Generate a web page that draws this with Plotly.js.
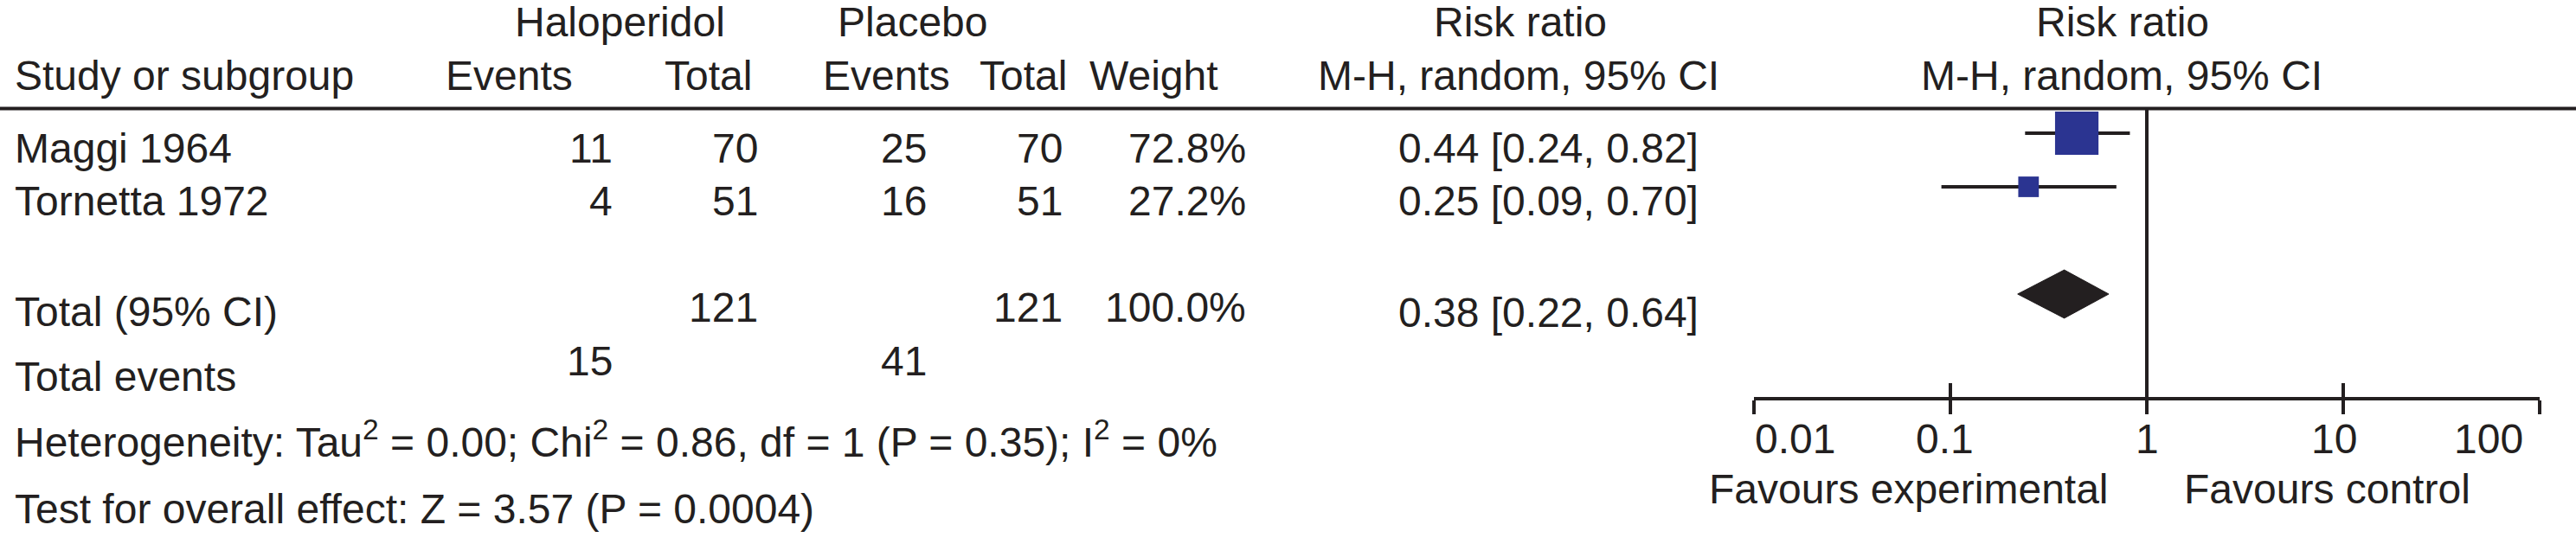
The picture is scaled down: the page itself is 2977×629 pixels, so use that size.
<!DOCTYPE html>
<html>
<head>
<meta charset="utf-8">
<script src="https://cdn.plot.ly/plotly-3.0.1.min.js"></script>
<style>html,body{margin:0;padding:0;background:#fff;}#chart{width:2977px;height:629px;}</style>
</head>
<body>
<div id="chart"></div>
<script>
// ---------------- DATA ----------------
const studies = ['Maggi 1964', 'Tornetta 1972'];
const haloEvents = [11, 4];
const haloTotal = [70, 51];
const placEvents = [25, 16];
const placTotal = [70, 51];
const weightPct = [72.8, 27.2];
const riskRatio = [0.44, 0.25];
const ciLower = [0.24, 0.09];
const ciUpper = [0.82, 0.70];

const pooledLabel = 'Total (95% CI)';
const pooledHaloTotal = 121;
const pooledPlacTotal = 121;
const pooledWeight = 100.0;
const pooledRR = 0.38;
const pooledLower = 0.22;
const pooledUpper = 0.64;
const totalHaloEvents = 15;
const totalPlacEvents = 41;

const hetTau2 = '0.00';
const hetChi2 = '0.86';
const hetDf = 1;
const hetP = '0.35';
const hetI2 = 0;
const overallZ = '3.57';
const overallP = '0.0004';

const nullEffect = 1;
const axisTickValues = [0.01, 0.1, 1, 10, 100];
const axisTickLabels = ['0.01', '0.1', '1', '10', '100'];
const favourLabels = ['Favours experimental', 'Favours control'];

// ---------------- STYLE / LAYOUT ----------------
const W = 2977, H = 629;
const INK = '#231f20';
const BLUE = '#2b3491';
const FONT = '"Liberation Sans", Arial, Helvetica, sans-serif';
const FS = 48;
const X = px => px / W;
const Y = py => 1 - py / H;
const axisLeftPx = 2027, axisRightPx = 2935, axisPx = 459;
const rowTopPx = 154, rowStepPx = 62;
const pxToRow = py => (py - rowTopPx) / rowStepPx;
const yTop = pxToRow(0);
const yBottom = pxToRow(axisPx);
const tickLabelNudge = [47, -7, 0, -11, -59];

const nStudies = studies.length;
const studyRows = studies.map((s, i) => i);
const pooledRow = nStudies + 1;

// CI lines
const ciX = [], ciY = [];
studies.forEach((s, i) => {
  ciX.push(ciLower[i], ciUpper[i], null);
  ciY.push(studyRows[i], studyRows[i], null);
});

const traces = [
  {type: 'scatter', mode: 'lines', x: [nullEffect, nullEffect], y: [yBottom, pxToRow(127)],
   line: {color: INK, width: 4}, hoverinfo: 'skip', opacity: 1},
  {type: 'scatter', mode: 'lines', x: ciX, y: ciY, line: {color: INK, width: 4}, hoverinfo: 'skip', opacity: 1},
  {type: 'scatter', mode: 'markers', x: riskRatio, y: studyRows, opacity: 1,
   marker: {symbol: 'square', color: BLUE, opacity: 1, size: weightPct.map(w => 8 + 0.58 * w), line: {width: 0}},
   hoverinfo: 'skip'},
  {type: 'scatter', mode: 'lines', fill: 'toself', fillcolor: INK, opacity: 1,
   x: [pooledLower, pooledRR, pooledUpper, pooledRR, pooledLower],
   y: [pooledRow, pooledRow - 0.45, pooledRow, pooledRow + 0.45, pooledRow],
   line: {color: INK, width: 1}, hoverinfo: 'skip'},
  {type: 'scatter', mode: 'markers', x: [1], y: [0], xaxis: 'x2', marker: {opacity: 0}, hoverinfo: 'skip'}
];

const ann = [];
function txt(text, xpx, ypx, anchor, extra) {
  ann.push(Object.assign({
    text: text, xref: 'paper', yref: 'paper', x: X(xpx), y: Y(ypx),
    xanchor: anchor, yanchor: 'middle', showarrow: false,
    font: {family: FONT, size: FS, color: INK}
  }, extra || {}));
}

// headers
txt('Haloperidol', 716, 26, 'center');
txt('Placebo', 1054, 26, 'center');
txt('Risk ratio', 1757, 26, 'center');
txt('Risk ratio', 2453, 26, 'center');
txt('Study or subgroup', 15, 88, 'left');
txt('Events', 588, 88, 'center');
txt('Total', 818, 88, 'center');
txt('Events', 1024, 88, 'center');
txt('Total', 1182, 88, 'center');
txt('Weight', 1333, 88, 'center');
txt('M-H, random, 95% CI', 1755, 88, 'center');
txt('M-H, random, 95% CI', 2452, 88, 'center');

// study rows
const studyTextPx = [171, 232];
studies.forEach((s, i) => {
  const yp = studyTextPx[i];
  txt(s, 15, yp, 'left');
  txt(String(haloEvents[i]), 710, yp, 'right');
  txt(String(haloTotal[i]), 878, yp, 'right');
  txt(String(placEvents[i]), 1073, yp, 'right');
  txt(String(placTotal[i]), 1230, yp, 'right');
  txt(weightPct[i].toFixed(1) + '%', 1442, yp, 'right');
  txt(riskRatio[i].toFixed(2) + ' [' + ciLower[i].toFixed(2) + ', ' + ciUpper[i].toFixed(2) + ']', 1614, yp, 'left');
});

// pooled row
txt(pooledLabel, 15, 360, 'left');
txt(String(pooledHaloTotal), 878, 355, 'right');
txt(String(pooledPlacTotal), 1230, 355, 'right');
txt(pooledWeight.toFixed(1) + '%', 1442, 355, 'right');
txt(pooledRR.toFixed(2) + ' [' + pooledLower.toFixed(2) + ', ' + pooledUpper.toFixed(2) + ']', 1614, 361, 'left');

// total events
txt('Total events', 15, 435, 'left');
txt(String(totalHaloEvents), 710, 417, 'right');
txt(String(totalPlacEvents), 1073, 417, 'right');

// heterogeneity & overall
txt('Heterogeneity: Tau<sup>2</sup> = ' + hetTau2 + '; Chi<sup>2</sup> = ' + hetChi2 + ', df = ' + hetDf +
    ' (P = ' + hetP + '); I<sup>2</sup> = ' + hetI2 + '%', 15, 508, 'left');
txt('Test for overall effect: Z = ' + overallZ + ' (P = ' + overallP + ')', 15, 588, 'left');

// axis tick labels
axisTickValues.forEach((v, i) => {
  ann.push({text: axisTickLabels[i], xref: 'x', yref: 'paper', x: Math.log10(v), y: Y(507),
    xanchor: 'center', yanchor: 'middle', xshift: tickLabelNudge[i], showarrow: false,
    font: {family: FONT, size: FS, color: INK}});
});
txt(favourLabels[0], 2206, 565, 'center');
txt(favourLabels[1], 2689, 565, 'center');

const axisCommon = {
  type: 'log', range: [-2, 2], domain: [X(axisLeftPx), X(axisRightPx)],
  tickvals: axisTickValues, showticklabels: false, showgrid: false, zeroline: false,
  ticklen: 16, tickwidth: 4, tickcolor: INK, fixedrange: true
};

const layout = {
  width: W, height: H,
  margin: {l: 0, r: 0, t: 0, b: 0, pad: 0},
  paper_bgcolor: '#ffffff', plot_bgcolor: 'rgba(0,0,0,0)',
  showlegend: false,
  xaxis: Object.assign({}, axisCommon, {anchor: 'y', ticks: 'outside', showline: true, linecolor: INK, linewidth: 4}),
  xaxis2: Object.assign({}, axisCommon, {anchor: 'y', overlaying: 'x', side: 'bottom', ticks: 'inside', showline: false}),
  yaxis: {domain: [Y(axisPx), 1], range: [yBottom, yTop], showgrid: false, zeroline: false,
          showticklabels: false, showline: false, ticks: '', fixedrange: true},
  shapes: [
    {type: 'line', xref: 'paper', yref: 'paper', x0: 0, x1: 1, y0: Y(125.5), y1: Y(125.5), line: {color: INK, width: 4}}
  ],
  annotations: ann
};

Plotly.newPlot('chart', traces, layout, {staticPlot: true, displayModeBar: false});
</script>
</body>
</html>
